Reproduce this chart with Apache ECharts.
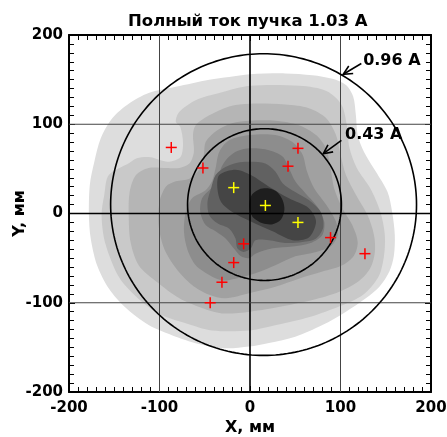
<!DOCTYPE html>
<html><head><meta charset="utf-8">
<script src="https://cdn.jsdelivr.net/npm/echarts@6/dist/echarts.min.js"></script>
<style>html,body{margin:0;padding:0;background:#fff}#c{width:447px;height:437px}</style>
</head><body><div id="c"></div>
<script>
// ---- text ----
const titleText = 'Полный ток пучка 1.03 A';
const xName = 'X, мм';
const yName = 'Y, мм';
// ---- axes ----
const axisMin = -200, axisMax = 200, axisStep = 100;
const gridLinesX = [-100, 0, 100];
const gridLinesY = [-100, 0, 100];
// ---- contour levels (outer -> inner), boundaries, in mm ----
const levelColors = ['#dddddd','#c9c9c9','#b5b5b5','#a1a1a1','#8d8d8d','#787878','#616161','#454545','#1e1e1e'];
const level1 = [[0,156],[39,157],[69,155],[91,151],[106,144],[114,131],[117,110],[119,88],[126,69],[139,47],[152,24],[157,2],[160,-24],[159,-47],[154,-65],[143,-82],[128,-95],[106,-110],[80,-125],[50,-138],[21,-145],[-1,-149],[-27,-151],[-53,-147],[-82,-138],[-112,-125],[-137,-106],[-156,-84],[-169,-58],[-176,-28],[-178,-2],[-177,32],[-172,58],[-165,84],[-152,107],[-134,123],[-112,135],[-82,142],[-45,150],[-23,153]];
const level2 = [[0,143],[55,143],[85,137],[101,122],[107,99],[110,73],[118,51],[133,28],[144,2],[149,-24],[148,-48],[142,-71],[125,-91],[99,-104],[66,-116],[29,-125],[0,-131],[-42,-131],[-71,-123],[-101,-112],[-126,-93],[-145,-71],[-160,-33],[-164,-2],[-161,21],[-156,43],[-133,57],[-125,62],[-110,63],[-91,58],[-77,63],[-74,79],[-77,97],[-82,103],[-78,114],[-60,127],[-34,135]];
const level3 = [[0,123],[39,122],[65,118],[84,107],[95,88],[100,66],[106,43],[117,21],[130,-2],[137,-24],[138,-43],[133,-61],[120,-76],[98,-88],[69,-97],[36,-104],[0,-110],[-31,-112],[-53,-106],[-78,-95],[-104,-76],[-123,-58],[-132,-32],[-134,-2],[-133,24],[-126,43],[-112,51],[-93,51],[-78,51],[-67,56],[-62,69],[-63,88],[-60,99],[-45,110],[-23,120]];
const level4 = [[0,104],[28,104],[54,99],[73,88],[84,73],[89,51],[93,28],[102,6],[113,-13],[119,-32],[115,-47],[102,-58],[80,-65],[54,-73],[28,-82],[0,-89],[-27,-95],[-45,-91],[-64,-80],[-82,-61],[-95,-39],[-101,-13],[-100,13],[-93,30],[-82,36],[-67,39],[-55,51],[-51,66],[-49,80],[-38,92],[-20,101]];
const level5 = [[0,88],[28,88],[47,80],[58,66],[63,47],[71,28],[84,10],[95,-9],[97,-24],[89,-37],[73,-43],[50,-48],[28,-58],[6,-67],[-16,-73],[-31,-75],[-45,-69],[-60,-58],[-69,-41],[-73,-20],[-71,2],[-64,17],[-49,26],[-42,36],[-38,51],[-34,69],[-23,82]];
const level6 = [[0,73],[21,71],[36,64],[43,51],[50,36],[61,23],[74,8],[82,-9],[80,-24],[67,-33],[47,-37],[25,-39],[6,-45],[-1,-50],[-10,-48],[-18,-39],[-27,-28],[-38,-20],[-49,-13],[-55,2],[-53,17],[-45,26],[-36,36],[-32,51],[-25,62],[-14,70]];
const level7 = [[0,58],[17,56],[28,47],[36,34],[50,24],[65,15],[78,2],[81,-15],[73,-28],[58,-32],[39,-33],[21,-30],[6,-30],[1,-39],[-7,-43],[-14,-39],[-16,-28],[-23,-17],[-36,-11],[-45,-2],[-47,13],[-43,28],[-38,43],[-27,52],[-14,57]];
const level8 = [[-36,28],[-34,43],[-16,49],[1,43],[21,30],[43,17],[65,6],[73,-9],[65,-27],[47,-30],[25,-20],[1,-9],[-20,2],[-32,13]];
const level9 = [[-1,10],[2,21],[10,27],[21,28],[30,24],[36,15],[38,4],[34,-7],[25,-12],[14,-11],[4,-5],[0,2]];
const levels = [level1, level2, level3, level4, level5, level6, level7, level8, level9];
// ---- measurement points ----
const redX = [-87, -52, 53, 42, -7, -18, -31, -44, 89, 127];
const redY = [74, 51, 73, 53, -34, -55, -77, -100, -27, -45];
const yellowX = [-18, 17, 53];
const yellowY = [29, 9, -10];
// ---- current circles ----
const circleX = [15, 16];
const circleY = [10, 10];
const circleR = [169, 85];
const circleLabels = ['0.96 A', '0.43 A'];
const labelX = [125, 105];
const labelY = [171, 88];
const arrowFromX = [123, 101];
const arrowFromY = [168, 82];
const arrowToX = [103, 81];
const arrowToY = [156, 67];

const FONT = 'DejaVu Sans';
const chart = echarts.init(document.getElementById('c'), null, {renderer: 'canvas'});

function baseAxis(extra) {
  return Object.assign({
    type: 'value', min: axisMin, max: axisMax, interval: axisStep,
    axisLine: {show: true, onZero: false, lineStyle: {color: '#000', width: 2}},
    axisTick: {show: true, inside: true, length: 6, lineStyle: {color: '#000', width: 1}},
    minorTick: {show: true, splitNumber: 10, length: 5, lineStyle: {color: '#000', width: 1}},
    splitLine: {show: false},
    axisLabel: {show: false}
  }, extra);
}

const labelStyle = {show: true, color: '#000', fontFamily: FONT, fontWeight: 'bold', fontSize: 15};

const option = {
  animation: false,
  title: {text: titleText, left: 123, top: 8, textStyle: {fontFamily: FONT, fontWeight: 'bold', fontSize: 16.5, color: '#000'}},
  grid: {left: 69, right: 16, top: 35, bottom: 45, containLabel: false, outerBoundsMode: 'none'},
  xAxis: [
    baseAxis({position: 'bottom', axisLabel: Object.assign({margin: 9}, labelStyle),
      name: xName, nameLocation: 'middle', nameGap: 28, nameMoveOverlap: false,
      nameTextStyle: {fontFamily: FONT, fontWeight: 'bold', fontSize: 16, color: '#000'}}),
    baseAxis({position: 'top'})
  ],
  yAxis: [
    baseAxis({position: 'left', axisLabel: Object.assign({margin: 6}, labelStyle),
      name: yName, nameLocation: 'middle', nameGap: 41, nameMoveOverlap: false,
      nameTextStyle: {fontFamily: FONT, fontWeight: 'bold', fontSize: 16, color: '#000'}}),
    baseAxis({position: 'right'})
  ],
  series: [
    {
      type: 'custom', name: 'contours', silent: true, z: 1, clip: true,
      data: levels.map((l, i) => [i, i]),
      renderItem: function (params, api) {
        const i = params.dataIndex;
        return {type: 'polygon', z2: i,
          shape: {points: levels[i].map(p => api.coord(p)), smooth: 0.3},
          style: {fill: levelColors[i], stroke: null}};
      }
    },
    {
      type: 'custom', name: 'gridX', silent: true, z: 3, clip: true,
      data: gridLinesX.map(v => [v, 0]),
      renderItem: function (params, api) {
        const v = gridLinesX[params.dataIndex];
        const a = api.coord([v, axisMin]), b = api.coord([v, axisMax]);
        return {type: 'line', shape: {x1: a[0], y1: a[1], x2: b[0], y2: b[1]},
          style: {stroke: v === 0 ? '#000' : '#444', lineWidth: v === 0 ? 1.6 : 1}};
      }
    },
    {
      type: 'custom', name: 'gridY', silent: true, z: 3, clip: true,
      data: gridLinesY.map(v => [0, v]),
      renderItem: function (params, api) {
        const v = gridLinesY[params.dataIndex];
        const a = api.coord([axisMin, v]), b = api.coord([axisMax, v]);
        return {type: 'line', shape: {x1: a[0], y1: a[1], x2: b[0], y2: b[1]},
          style: {stroke: v === 0 ? '#000' : '#444', lineWidth: v === 0 ? 1.6 : 1}};
      }
    },
    {
      type: 'custom', name: 'circles', silent: true, z: 4, clip: true,
      data: circleR.map((r, i) => [circleX[i], circleY[i]]),
      renderItem: function (params, api) {
        const i = params.dataIndex, pts = [];
        for (let k = 0; k <= 240; k++) {
          const t = k / 240 * Math.PI * 2;
          pts.push(api.coord([circleX[i] + circleR[i] * Math.cos(t), circleY[i] + circleR[i] * Math.sin(t)]));
        }
        return {type: 'polyline', shape: {points: pts}, style: {stroke: '#000', lineWidth: 1.6, fill: null}};
      }
    },
    {
      type: 'custom', name: 'red', silent: true, z: 5,
      data: redX.map((x, i) => [x, redY[i]]),
      renderItem: function (params, api) {
        const c = api.coord([api.value(0), api.value(1)]), h = 5.5;
        return {type: 'group', children: [
          {type: 'line', shape: {x1: c[0] - h, y1: c[1], x2: c[0] + h, y2: c[1]}, style: {stroke: '#ff0000', lineWidth: 1.5}},
          {type: 'line', shape: {x1: c[0], y1: c[1] - h, x2: c[0], y2: c[1] + h}, style: {stroke: '#ff0000', lineWidth: 1.5}}
        ]};
      }
    },
    {
      type: 'custom', name: 'yellow', silent: true, z: 5,
      data: yellowX.map((x, i) => [x, yellowY[i]]),
      renderItem: function (params, api) {
        const c = api.coord([api.value(0), api.value(1)]), h = 5.5;
        return {type: 'group', children: [
          {type: 'line', shape: {x1: c[0] - h, y1: c[1], x2: c[0] + h, y2: c[1]}, style: {stroke: '#ffff00', lineWidth: 1.5}},
          {type: 'line', shape: {x1: c[0], y1: c[1] - h, x2: c[0], y2: c[1] + h}, style: {stroke: '#ffff00', lineWidth: 1.5}}
        ]};
      }
    },
    {
      type: 'custom', name: 'labels', silent: true, z: 6, clip: false,
      data: labelX.map((x, i) => [x, labelY[i]]),
      renderItem: function (params, api) {
        const i = params.dataIndex;
        const t = api.coord([labelX[i], labelY[i]]);
        const a = api.coord([arrowFromX[i], arrowFromY[i]]);
        const b = api.coord([arrowToX[i], arrowToY[i]]);
        const ang = Math.atan2(a[1] - b[1], a[0] - b[0]), L = 10, sp = 0.45;
        const h1 = [b[0] + L * Math.cos(ang + sp), b[1] + L * Math.sin(ang + sp)];
        const h2 = [b[0] + L * Math.cos(ang - sp), b[1] + L * Math.sin(ang - sp)];
        return {type: 'group', children: [
          {type: 'line', shape: {x1: a[0], y1: a[1], x2: b[0], y2: b[1]}, style: {stroke: '#000', lineWidth: 1.6}},
          {type: 'polyline', shape: {points: [h1, b, h2]}, style: {stroke: '#000', lineWidth: 1.6, fill: null}},
          {type: 'text', x: t[0], y: t[1], style: {text: circleLabels[i], fill: '#000', font: 'bold 16px "' + FONT + '"', textAlign: 'left', textVerticalAlign: 'middle'}}
        ]};
      }
    }
  ]
};
chart.setOption(option);
</script>
</body></html>
